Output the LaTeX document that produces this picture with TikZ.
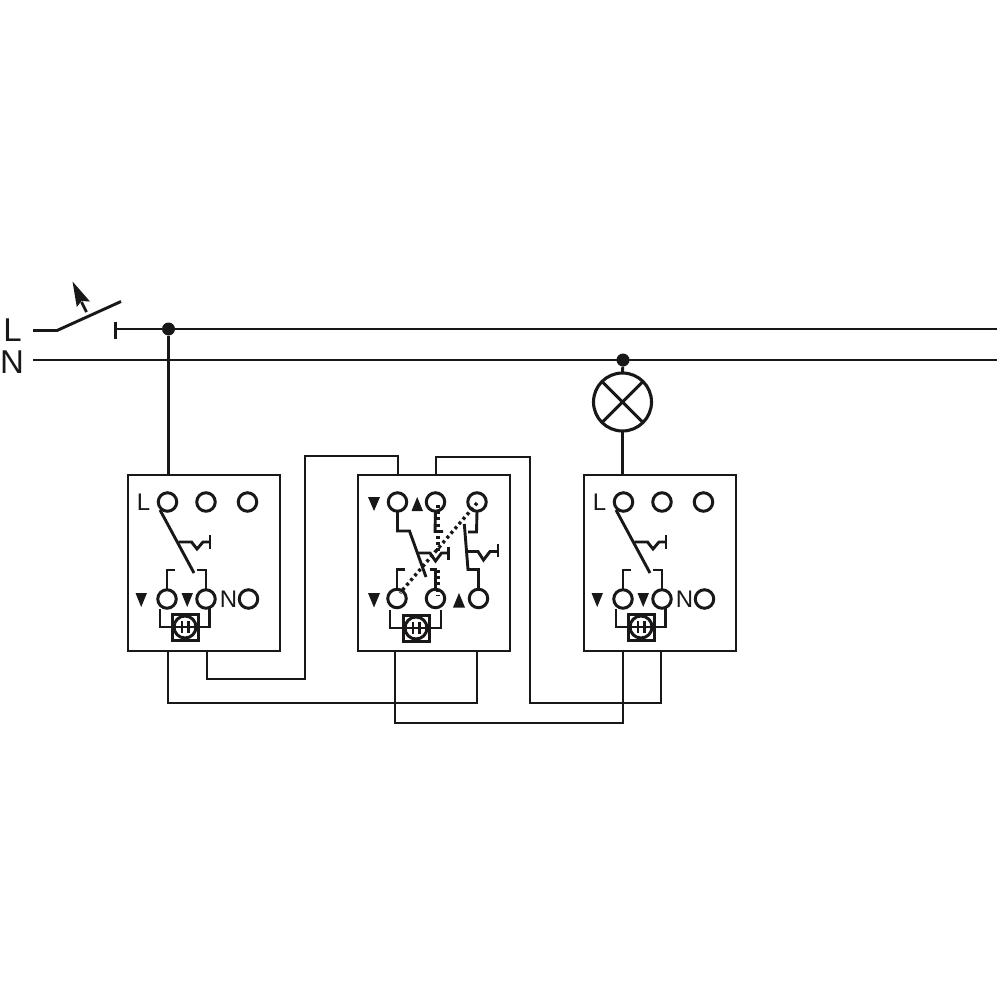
\documentclass[tikz,border=0pt]{standalone}
\usepackage{fontspec}
\setmainfont{Liberation Sans}
\definecolor{ink}{HTML}{1A1718}
\tikzset{
  wire/.style={draw=ink,line width=2.9pt,line join=miter},
  thin wire/.style={draw=ink,line width=2.8pt},
  modbox/.style={draw=ink,line width=2.9pt,rectangle,inner sep=0,outer sep=0,minimum width=152pt,minimum height=176pt},
  term/.style={draw=ink,line width=3pt,circle,inner sep=0,outer sep=0,minimum size=18.5pt},
  junction/.style={fill=ink,circle,inner sep=0,minimum size=13pt},
  lamp/.style={draw=ink,line width=3.1pt,circle,inner sep=0,outer sep=0,minimum size=58pt},
  lab/.style={text=ink,inner sep=0,font=\fontsize{24}{24}\selectfont,anchor=base},
  biglab/.style={text=ink,inner sep=0,font=\fontsize{33}{33}\selectfont,anchor=base},
  tri/.style={fill=ink},
  dots/.style={draw=ink,line width=3.4pt,dash pattern=on 3pt off 3.2pt},
  sqbox/.style={draw=ink,line width=3pt,minimum size=26pt,inner sep=0,outer sep=0},
  sqring/.style={draw=ink,line width=3pt,circle,minimum size=22pt,inner sep=0,outer sep=0},
}
% #1 prefix, #2 x shift: two-way module with sensor
\newcommand{\sensorunit}[2]{%
  \begin{scope}[shift={(#2,0)}]
    \node[modbox] (#1box) at (204,563) {};
    \node[term] (#1a) at (167.5,502) {};
    \node[term] (#1b) at (206,502) {};
    \node[term] (#1c) at (247.5,502) {};
    \node[term] (#1d) at (167,599) {};
    \node[term] (#1e) at (206,599) {};
    \node[term] (#1f) at (248.5,599) {};
    \node[lab] (#1L) at (143.5,510) {L};
    \node[lab] (#1N) at (228.5,607) {N};
    \fill[tri] (135.5,593) -- (147,593) -- (141.2,607) -- cycle;
    \fill[tri] (181.5,593) -- (193,593) -- (187.2,607) -- cycle;
    \draw[wire] (160,510) -- (194,573);
    \draw[wire] (178.5,542) -- (191.5,542) -- (197,549) -- (203,542) -- (210,542);
    \draw[wire] (210,535) -- (210,549);
    \draw[wire] (175,570) -- (#1d.north |- 0,570) -- (#1d.north);
    \draw[wire] (196.5,570) -- (#1e.north |- 0,570) -- (#1e.north);
    \node[sqbox] (#1sq) at (185,627) {};
    \node[sqring] (#1ci) at (185,627) {};
    \draw[wire] (182,621) -- (182,633);
    \draw[wire] (188.5,621) -- (188.5,633);
    \draw[wire,line width=2pt] (#1ci.west) -- (#1ci.east);
    \draw[wire] (160,609) -- (160,627) -- (#1sq.west);
    \draw[wire] (209.5,608) -- (209.5,627) -- (#1sq.east);
  \end{scope}}
\begin{document}
\begin{tikzpicture}[x=1pt,y=-1pt]
\useasboundingbox (0,0) rectangle (1000,1000);
% supply
\node[biglab] (Ltext) at (12.5,341) {L};
\node[biglab] (Ntext) at (12,373) {N};
\coordinate (swa) at (33,330.5);
\coordinate (swb) at (57,330.5);
\coordinate (swc) at (121,301.5);
\coordinate (stop) at (116,329);
\coordinate (Lend) at (997,329);
\coordinate (Nstart) at (33,360);
\coordinate (Nend) at (997,360);
\draw[wire] (swa) -- (swb) -- (swc);
\draw[wire] (stop) -- (Lend);
\draw[wire] (115.5,321.5) -- (115.5,339);
\draw[wire] (Nstart) -- (Nend);
\draw[wire] (86.5,312) -- (81.5,302);
\fill[tri] (72.5,281.5) -- (90,301.5) -- (81.5,301) -- (76.8,307) -- cycle;
\node[junction] (j1) at (168.5,329) {};
\node[junction] (j2) at (623,360) {};
% modules
\sensorunit{p}{0}
\sensorunit{q}{456}
\node[modbox] (mbox) at (434,563) {};
\node[term] (ma) at (397.5,502) {};
\node[term] (mb) at (435.5,502) {};
\node[term] (mc) at (477,502) {};
\node[term] (md) at (397,598.5) {};
\node[term] (me) at (435.5,598.5) {};
\node[term] (mf) at (478.5,598.5) {};
\fill[tri] (368,497) -- (380,497) -- (374,511) -- cycle;
\fill[tri] (411.5,511) -- (423,511) -- (417.2,497) -- cycle;
\fill[tri] (368,593) -- (380,593) -- (374,607.5) -- cycle;
\fill[tri] (453,607.5) -- (465,607.5) -- (459,593) -- cycle;
% centre module switches
\draw[wire] (ma.south) -- (397.5,531) -- (409.5,531) -- (426,577);
\draw[wire] (418,553) -- (430,553) -- (435.5,561) -- (441.5,553) -- (448.5,553);
\draw[wire] (448.5,546.5) -- (448.5,559.5);
\draw[wire] (405,569.5) -- (397,569.5) -- (md.north);
\draw[wire] (mc.south) -- (476.5,532) -- (468,532);
\draw[wire] (464.3,524) -- (468,569.5) -- (478.5,569.5) -- (mf.north);
\draw[wire] (467,551.5) -- (478,551.5) -- (483.5,560) -- (490,551.5) -- (498,551.5);
\draw[wire] (498,543.5) -- (498,557);
\draw[wire] (mb.south) -- (435,531.5) -- (443,531.5);
\draw[wire] (429.5,569.5) -- (435.5,569.5) -- (me.north);
\draw[dots] (438,505) -- (438,552);
\draw[dots] (438,570) -- (438,596);
\draw[dots] (477,503) -- (400,593);
\node[sqbox] (msq) at (416,628) {};
\node[sqring] (mci) at (416,628) {};
\draw[wire] (413,622) -- (413,634);
\draw[wire] (419.5,622) -- (419.5,634);
\draw[wire,line width=2pt] (mci.west) -- (mci.east);
\draw[wire] (390,610) -- (390,628) -- (msq.west);
\draw[wire] (441,610) -- (441,628) -- (msq.east);
% lamp
\node[lamp] (lamp) at (622.5,402) {};
\draw[wire] (lamp.45) -- (lamp.225);
\draw[wire] (lamp.135) -- (lamp.315);
\draw[wire] (j2) -- (lamp.north);
\draw[wire] (lamp.south) -- (qbox.north -| lamp.south);
% feed
\draw[wire] (j1) -- (pbox.north -| j1);
% box-edge points
\coordinate (m1) at (mbox.north -| 398,0);
\coordinate (m2) at (mbox.north -| 436,0);
\coordinate (m3) at (mbox.south -| 395,0);
\coordinate (m4) at (mbox.south -| 477,0);
\coordinate (p1) at (pbox.south -| 168,0);
\coordinate (p2) at (pbox.south -| 207,0);
\coordinate (q1) at (qbox.south -| 623,0);
\coordinate (q2) at (qbox.south -| 661,0);
\draw[thin wire] (m1) |- (305,456) |- (207,679) -- (p2);
\draw[thin wire] (m2) |- (530,457) |- (661,703) -- (q2);
\draw[thin wire] (p1) |- (477,703) -- (m4);
\draw[thin wire] (m3) |- (623,723) -- (q1);
\end{tikzpicture}
\end{document}
